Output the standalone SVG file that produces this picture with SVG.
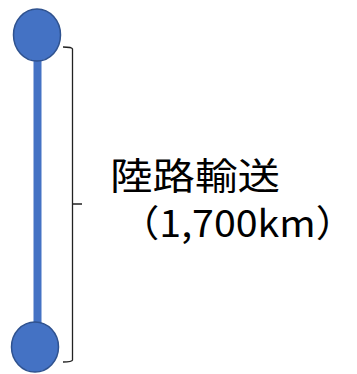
<svg xmlns="http://www.w3.org/2000/svg" width="357" height="374" viewBox="0 0 357 374">
<style>
.node{fill:#4472C4;stroke:#2F528F;stroke-width:1.5}
.bar{fill:#4472C4}
.brk{fill:none;stroke:#222;stroke-width:1.3}
.lbl{font-family:"Noto Sans CJK JP","Noto Sans",sans-serif;font-size:37px;fill:#000}
</style>
<rect width="357" height="374" fill="#fff"/>
<g id="connectors">
<rect class="bar" x="33.5" y="55" width="8" height="270"/>
</g>
<g id="top"><ellipse class="node" cx="37" cy="35" rx="23.5" ry="26"/></g>
<g id="bottom"><ellipse class="node" cx="35" cy="347" rx="23.5" ry="25"/></g>
<g id="bracket"><path class="brk" d="M63,47 Q72,47 72.5,49 L72.5,360 Q72,362 63,362 M72.5,204 L82,204"/></g>
<g id="label">
<text class="lbl" x="110" y="190" textLength="170" lengthAdjust="spacingAndGlyphs">陸路輸送</text>
<text class="lbl" x="120" y="237" textLength="235" lengthAdjust="spacingAndGlyphs">（1,700km）</text>
</g>
</svg>
